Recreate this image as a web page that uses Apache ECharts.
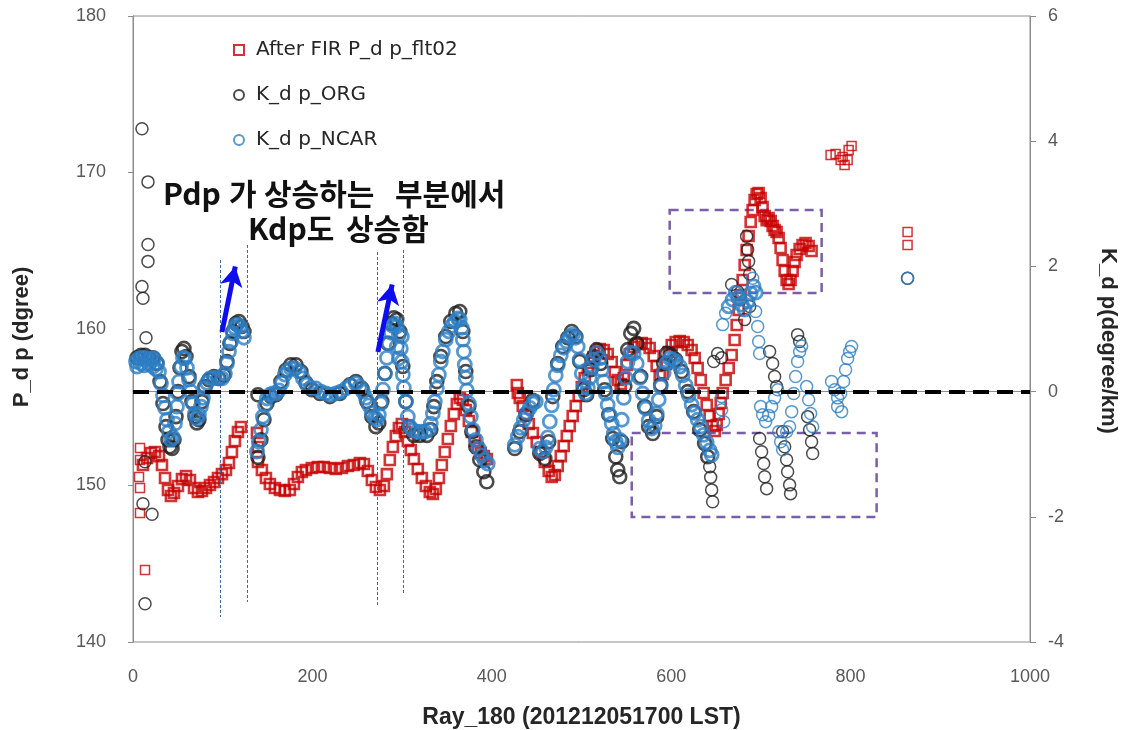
<!DOCTYPE html>
<html>
<head>
<meta charset="utf-8">
<script src="https://cdn.jsdelivr.net/npm/echarts@6/dist/echarts.min.js"></script>
<style>
  html, body { margin: 0; padding: 0; background: #fff; }
  #chart { width: 1131px; height: 730px; }
</style>
</head>
<body>
<div id="chart"></div>
<script>
// Axis ranges
const rayRange = [0, 1000, 200];
const phidpRange = [140, 180, 10];
const kdpRange = [-4, 6, 2];

// After FIR P_dp_flt02 : [ray, degree]
const flt02Start = [[7.8,152.40],[7.8,151.63],[6.7,150.54],[7.8,149.84],[7.8,148.24],[13.4,144.60]];
const flt02A = [[11.1,151.31],[15.6,151.76],[20.1,152.08],[24.5,152.14],[29.0,151.88],[32.3,151.31],[35.7,150.48],[39.0,149.71],[42.3,149.33],[45.7,149.52],[50.1,149.97],[54.6,150.41],[59.1,150.61],[63.5,150.35],[68.0,149.84],[72.4,149.58],[76.9,149.65],[81.3,149.84],[85.8,150.03],[90.3,150.22],[94.7,150.48],[99.2,150.73],[103.6,150.99],[107.0,151.44],[110.3,152.14],[113.6,152.84],[117.0,153.42],[120.3,153.74]];
const flt02B = [[138.2,153.36],[139.3,152.46],[139.3,151.50],[143.7,150.99],[148.2,150.48],[152.6,150.10],[158.2,149.84],[163.8,149.71],[169.3,149.65],[174.9,149.71],[179.4,150.10],[183.8,150.54],[188.3,150.86],[192.8,150.99],[199.4,151.12],[206.1,151.18],[212.8,151.18],[219.5,151.12],[226.2,151.05],[232.9,151.12],[239.6,151.25],[246.2,151.31],[252.9,151.44],[257.4,151.37],[261.8,150.93],[266.3,150.35],[270.8,149.90],[275.2,149.71],[279.7,149.97],[283.0,150.73],[286.3,151.63],[289.7,152.46],[293.0,153.16],[296.4,153.67],[299.7,153.93],[303.1,153.42],[306.4,152.84],[309.7,152.27],[313.1,151.69],[317.5,151.05],[322.0,150.48],[326.5,149.97],[330.9,149.58],[334.3,149.46],[337.6,149.78],[341.0,150.48],[344.3,151.31],[347.6,152.14],[351.0,152.97],[354.3,153.80],[357.7,154.57],[361.0,155.21],[364.3,155.59],[367.7,155.46],[371.0,154.82],[374.4,154.12],[377.7,153.42],[381.1,152.84],[384.4,152.40],[387.7,152.08],[391.1,151.88],[394.4,151.69]];
const flt02C = [[427.9,156.42],[429.0,155.91],[431.2,155.59],[434.5,155.08],[437.9,154.50],[441.2,153.93],[445.7,153.35],[450.1,152.78],[454.6,152.14],[459.1,151.50],[463.5,150.93],[466.8,150.54],[470.2,150.67],[473.5,151.25],[476.9,151.88],[480.2,152.52],[483.6,153.16],[486.9,153.80],[490.2,154.44],[493.6,155.08],[496.9,155.72],[500.3,156.29],[503.6,156.87],[507.0,157.38],[510.3,157.83],[513.6,158.21],[517.0,158.53],[520.3,158.72],[524.8,158.66],[529.2,158.40],[533.7,157.89],[537.1,157.25],[540.4,156.74],[543.7,156.49],[547.1,156.87],[550.4,157.70],[553.8,158.40],[558.2,158.85],[562.7,159.04],[567.1,159.11],[571.6,159.04],[576.0,158.79],[580.5,158.27],[583.8,157.64],[587.2,157.06],[590.5,157.13],[593.9,157.76],[597.2,158.53],[600.6,158.98],[605.0,159.17],[609.5,159.23],[614.0,159.17],[618.4,158.98],[622.8,158.66],[626.2,158.15],[629.5,157.51],[632.9,156.74],[636.2,155.91],[639.6,155.14],[642.9,154.44],[646.2,153.80],[648.5,153.48],[650.7,153.87],[652.9,154.57],[655.2,155.27],[657.4,155.91],[660.7,156.74],[664.1,157.51],[667.4,158.34],[670.7,159.30],[673.0,160.26],[675.2,161.21],[677.4,162.17],[679.7,163.13],[681.9,164.09],[684.1,165.05],[686.3,165.94],[688.6,166.84],[690.8,167.60],[693.0,168.24],[695.3,168.63],[697.5,168.69],[699.7,168.37],[701.9,167.80],[704.2,167.22],[706.4,166.96],[708.6,167.09],[710.9,166.90],[713.1,166.58],[715.3,166.33],[717.5,166.20],[719.8,165.81],[722.0,165.18],[724.2,164.41],[726.5,163.71],[728.7,163.13],[730.9,162.88],[733.1,163.13],[735.4,163.71],[737.6,164.28],[739.8,164.73],[743.2,165.11],[746.5,165.37],[749.8,165.50],[753.2,165.30],[756.5,164.98]];
const flt02End = [[777.7,171.12],[783.3,171.18],[788.9,170.80],[793.3,170.48],[797.8,171.44],[801.1,171.69],[796.7,170.80],[791.1,170.99],[863.5,166.20],[863.5,165.37]];

// K_dp_ORG : [ray, degree/km]
const orgStart = [[10.0,4.20],[16.7,3.35],[16.7,2.35],[16.7,2.08],[10.0,1.68],[11.1,1.49],[14.5,0.86],[13.4,-1.12],[11.1,-1.79],[21.2,-1.96],[13.4,-3.39]];
const orgA = [[4.5,0.54],[8.9,0.58],[13.4,0.58],[17.8,0.54],[22.3,0.54],[26.7,0.45],[30.1,0.16],[33.4,-0.19],[36.8,-0.56],[39.0,-0.77],[41.2,-0.88],[43.5,-0.91],[45.7,-0.77],[47.9,-0.40],[50.1,0.00],[52.4,0.38],[54.6,0.64],[56.8,0.69],[59.1,0.56],[62.4,0.24],[65.7,-0.16],[69.1,-0.40],[71.3,-0.50],[73.5,-0.45],[76.9,-0.16],[80.2,0.08],[84.7,0.19],[90.3,0.24],[95.8,0.21],[101.4,0.26],[104.7,0.48],[108.1,0.77],[111.4,0.96],[114.8,1.09],[118.1,1.12],[121.4,1.04],[123.7,0.96]];
const orgB = [[139.3,-0.05],[139.3,-1.05],[142.6,-0.77],[146.0,-0.45],[149.3,-0.19],[153.8,-0.08],[159.3,-0.05],[164.9,0.16],[170.5,0.34],[176.0,0.43],[181.6,0.43],[187.2,0.32],[192.8,0.14],[199.4,0.03],[208.4,-0.03],[219.5,-0.08],[230.6,-0.03],[241.8,0.11],[248.5,0.16],[255.2,0.05],[260.7,-0.16],[266.3,-0.40],[270.8,-0.56],[274.1,-0.50],[277.4,-0.16],[280.8,0.29],[284.1,0.77],[287.5,1.09],[290.8,1.18],[294.1,1.15],[297.5,0.96],[300.8,0.40],[304.2,-0.16],[307.5,-0.56],[313.1,-0.70],[319.8,-0.70],[327.6,-0.70],[332.0,-0.61],[335.4,-0.24],[338.7,0.16],[343.2,0.56],[348.7,0.88],[354.3,1.12],[359.9,1.25],[364.3,1.28],[367.7,0.96],[371.0,0.32],[374.4,-0.24],[377.7,-0.64],[382.2,-0.88],[386.6,-1.09],[391.1,-1.28],[394.4,-1.44]];
const orgC = [[425.6,-0.91],[431.2,-0.64],[437.9,-0.37],[445.7,-0.14],[453.5,-0.99],[459.1,-1.07],[463.5,-0.80],[468.0,-0.08],[473.5,0.45],[479.1,0.72],[484.7,0.86],[489.1,0.96],[493.6,0.88],[498.0,0.48],[502.5,0.03],[505.8,-0.05],[510.3,0.35],[513.6,0.56],[517.0,0.67],[521.4,0.45],[525.9,0.03],[530.4,-0.37],[534.8,-0.75],[538.2,-1.04],[540.4,-1.25],[542.6,-1.36],[544.9,-0.80],[548.2,0.08],[551.5,0.67],[554.9,0.93],[558.2,1.01],[561.6,0.77],[566.0,0.24],[570.5,-0.24],[574.9,-0.56],[579.4,-0.67],[583.8,-0.40],[588.3,0.11],[591.6,0.45],[595.0,0.61],[599.4,0.59],[605.0,0.51],[611.7,0.32],[618.4,0.00],[625.1,-0.32],[631.8,-0.61],[637.3,-0.83],[640.7,-1.04]];
const orgEnd = [[642.9,-1.20],[644.0,-1.37],[645.1,-1.57],[646.2,-1.76],[647.4,0.48],[651.8,0.61],[656.3,0.54],[667.4,1.71],[674.1,1.60],[681.9,1.15],[687.5,1.36],[684.1,2.48],[685.2,2.27],[686.3,2.08],[687.5,1.88],[709.7,0.64],[713.1,0.45],[715.3,0.24],[717.5,0.08],[698.6,-0.75],[700.8,-0.96],[703.1,-1.15],[704.2,-1.36],[706.4,-1.55],[724.2,-0.64],[726.5,-0.88],[728.7,-1.09],[729.8,-1.28],[732.0,-1.49],[733.1,-1.63],[740.9,0.91],[743.2,0.80],[752.1,-0.40],[754.3,-0.61],[756.5,-0.80],[757.7,-0.99],[863.5,1.81]];

// K_dp_NCAR : [ray, degree/km]
const ncarA = [[3.3,0.48],[4.5,0.40],[6.7,0.53],[8.9,0.45],[10.0,0.54],[12.3,0.42],[13.4,0.54],[16.7,0.51],[17.8,0.44],[20.1,0.53],[22.3,0.40],[23.4,0.53],[25.6,0.36],[26.7,0.46],[29.0,0.32],[31.2,0.13],[33.4,-0.06],[35.7,-0.26],[37.9,-0.45],[40.1,-0.64],[42.3,-0.77],[44.6,-0.73],[46.8,-0.51],[49.0,-0.24],[50.1,-0.03],[51.3,0.16],[53.5,0.40],[55.7,0.54],[57.9,0.53],[60.2,0.38],[62.4,0.19],[64.6,0.00],[66.9,-0.19],[69.1,-0.35],[71.3,-0.43],[73.5,-0.37],[75.8,-0.24],[78.0,-0.10],[80.2,0.05],[82.5,0.14],[85.8,0.21],[90.3,0.22],[94.7,0.21],[99.2,0.21],[102.5,0.29],[104.7,0.45],[107.0,0.64],[109.2,0.80],[111.4,0.93],[113.6,1.02],[115.9,1.07],[119.2,1.05],[121.4,0.96],[123.7,0.86]];
const ncarB = [[138.2,-0.96],[140.4,-0.80],[142.6,-0.61],[144.8,-0.40],[147.1,-0.22],[149.3,-0.11],[152.6,-0.05],[156.0,-0.03],[159.3,-0.03],[162.7,0.02],[166.0,0.14],[169.3,0.27],[172.7,0.34],[176.0,0.37],[180.5,0.37],[185.0,0.32],[189.4,0.21],[193.9,0.11],[198.3,0.06],[203.9,0.05],[209.5,0.00],[215.0,-0.03],[220.6,-0.05],[226.2,-0.03],[231.8,0.00],[237.3,0.05],[242.9,0.10],[248.5,0.13],[252.9,0.08],[256.3,0.00],[259.6,-0.10],[263.0,-0.22],[266.3,-0.34],[269.6,-0.42],[271.9,-0.45],[274.1,-0.37],[276.3,-0.19],[278.6,0.03],[280.8,0.29],[283.0,0.54],[285.2,0.77],[287.5,0.94],[289.7,1.05],[291.9,1.09],[294.1,1.04],[296.4,0.91],[298.6,0.69],[299.7,0.48],[300.8,0.27],[302.0,0.06],[304.2,-0.16],[306.4,-0.40],[308.6,-0.56],[312.0,-0.62],[316.4,-0.64],[320.9,-0.64],[325.3,-0.64],[329.8,-0.61],[332.0,-0.51],[334.3,-0.35],[336.5,-0.16],[338.7,0.05],[341.0,0.27],[343.2,0.48],[345.4,0.64],[348.7,0.83],[352.1,0.96],[355.4,1.05],[358.8,1.12],[362.1,1.17],[364.3,1.15],[366.6,1.02],[367.7,0.83],[368.8,0.64],[369.9,0.43],[371.0,0.22],[372.2,0.02],[374.4,-0.19],[376.6,-0.40],[378.8,-0.61],[382.2,-0.77],[385.5,-0.91],[388.9,-1.02],[392.2,-1.10],[395.5,-1.15],[294.1,0.72],[296.4,0.53],[299.7,0.88]];
const ncarC = [[425.6,-0.85],[429.0,-0.72],[432.3,-0.58],[435.7,-0.45],[439.0,-0.34],[442.3,-0.26],[445.7,-0.19],[449.0,-0.16],[453.5,-0.91],[456.8,-0.96],[460.2,-0.89],[462.4,-0.73],[464.6,-0.48],[466.8,-0.22],[469.1,0.03],[471.3,0.26],[473.5,0.42],[476.9,0.58],[480.2,0.70],[483.6,0.80],[486.9,0.88],[490.2,0.91],[493.6,0.86],[495.8,0.72],[498.0,0.51],[500.3,0.29],[502.5,0.08],[504.7,-0.03],[507.0,0.06],[509.2,0.22],[511.4,0.38],[513.6,0.51],[517.0,0.62],[520.3,0.53],[522.6,0.35],[524.8,0.16],[527.0,-0.03],[529.2,-0.21],[531.5,-0.37],[533.7,-0.51],[535.9,-0.67],[538.2,-0.80],[540.4,-0.89],[542.6,-0.77],[544.9,-0.45],[547.1,-0.10],[549.3,0.22],[551.5,0.48],[554.9,0.62],[558.2,0.61],[561.6,0.45],[564.9,0.22],[568.2,-0.03],[571.6,-0.27],[574.9,-0.46],[578.3,-0.59],[581.6,-0.54],[583.8,-0.35],[586.1,-0.13],[588.3,0.08],[591.6,0.30],[595.0,0.46],[598.3,0.53],[601.7,0.51],[605.0,0.48],[609.5,0.40],[612.8,0.26],[616.2,0.10],[619.5,-0.06],[622.8,-0.21],[626.2,-0.34],[629.5,-0.45],[632.9,-0.56],[636.2,-0.69],[639.6,-0.81],[642.9,-0.94],[645.1,-1.01],[664.1,1.36],[668.5,1.47],[671.9,1.58],[675.2,1.50],[678.5,1.39],[681.9,1.31],[685.2,1.44],[688.6,1.57],[691.9,1.68],[694.1,1.58]];
const ncarEnd = [[656.3,-0.08],[656.3,-0.29],[658.5,-0.48],[657.4,1.07],[660.7,1.25],[690.8,1.81],[694.1,1.28],[696.4,1.04],[697.5,0.80],[698.6,0.61],[699.7,-0.24],[701.9,-0.37],[705.3,-0.48],[708.6,-0.38],[712.0,-0.24],[715.3,-0.10],[718.7,0.03],[719.8,-0.64],[722.0,-0.80],[724.2,-0.93],[728.7,-0.64],[732.0,-0.56],[734.3,-0.32],[736.5,-0.03],[738.7,0.24],[740.9,0.48],[743.2,0.64],[745.4,0.73],[751.0,0.08],[753.2,-0.13],[755.4,-0.35],[757.7,-0.56],[778.8,0.16],[782.2,0.03],[785.5,-0.10],[788.9,-0.03],[792.2,0.16],[794.4,0.35],[796.7,0.53],[798.9,0.64],[801.1,0.72],[785.5,-0.24],[790.0,-0.32],[863.5,1.81]];

// Annotation geometry in data units
const boxUpper = [[598.3, 167.60], [767.7, 162.30]];
const boxLower = [[556.0, 153.35], [829.0, 147.99]];
const guideLines = [
  [[96.9, 164.41], [96.9, 141.60]],
  [[127.0, 165.37], [127.0, 142.56]],
  [[271.9, 164.92], [271.9, 142.24]],
  [[300.8, 165.05], [300.8, 143.13]]
];
const riseArrows = [
  [[99.2, 159.81], [114.0, 164.0]],
  [[273.0, 158.53], [288.9, 162.85]]
];

// Annotation text, word by word
const noteWords = [
  { text: 'Pdp', x: 163, y: 194 },
  { text: '가', x: 229, y: 194 },
  { text: '상승하는', x: 264, y: 194 },
  { text: '부분에서', x: 395, y: 194 },
  { text: 'Kdp도', x: 248, y: 229 },
  { text: '상승함', x: 346, y: 229 }
];

const names = ['After FIR P_d p_flt02', 'K_d p_ORG', 'K_d p_NCAR'];
const tickColor = '#595959';
const axisGray = '#8c8c8c';
const red = '#c80000', black = '#1e1e1e', blue = '#2d7ec4';
const hollow = 'rgba(255,255,255,0)';

function scatter(name, axis, symbol, size, color, width, data) {
  return {
    name, type: 'scatter', yAxisIndex: axis, symbol, symbolSize: size,
    itemStyle: { color: hollow, borderColor: color, borderWidth: width },
    data
  };
}

const chart = echarts.init(document.getElementById('chart'), null, { renderer: 'canvas' });

chart.setOption({
  animation: false,
  backgroundColor: '#ffffff',
  grid: {
    left: 133, right: 101, top: 16, bottom: 88,
    outerBoundsMode: 'none', containLabel: false,
    show: true, borderColor: axisGray, borderWidth: 1
  },
  legend: {
    data: names,
    orient: 'vertical',
    left: 233,
    top: 40,
    padding: 0,
    itemGap: 25,
    itemWidth: 10,
    itemHeight: 10,
    textStyle: { fontFamily: 'DejaVu Sans', fontSize: 20, color: '#262626', padding: [0, 0, 0, 7] }
  },
  xAxis: {
    type: 'value',
    min: rayRange[0], max: rayRange[1], interval: rayRange[2],
    axisLine: { show: true, lineStyle: { color: axisGray } },
    axisTick: { show: false },
    splitLine: { show: false },
    axisLabel: { color: tickColor, fontSize: 18, fontFamily: 'Liberation Sans', margin: 26, formatter: v => String(v) },
    name: 'Ray_180 (201212051700 LST)',
    nameLocation: 'middle',
    nameGap: 64,
    nameTextStyle: { fontFamily: 'Liberation Sans', fontWeight: 'bold', fontSize: 23, color: '#262626' }
  },
  yAxis: [
    {
      type: 'value', position: 'left',
      min: phidpRange[0], max: phidpRange[1], interval: phidpRange[2],
      axisLine: { show: true, lineStyle: { color: axisGray } },
      axisTick: { show: true, length: 5, lineStyle: { color: axisGray } },
      splitLine: { show: false },
      axisLabel: { color: tickColor, fontSize: 18, fontFamily: 'Liberation Sans', margin: 27 },
      name: 'P_d p (dgree)',
      nameLocation: 'middle',
      nameGap: 100,
      nameTextStyle: { fontFamily: 'Liberation Sans', fontWeight: 'bold', fontSize: 22, color: '#262626', padding: [0, 16, 0, 0] }
    },
    {
      type: 'value', position: 'right',
      min: kdpRange[0], max: kdpRange[1], interval: kdpRange[2],
      axisLine: { show: true, lineStyle: { color: axisGray } },
      axisTick: { show: true, length: 6, lineStyle: { color: axisGray } },
      splitLine: { show: false },
      axisLabel: { color: tickColor, fontSize: 18, fontFamily: 'Liberation Sans', margin: 18 },
      name: 'K_d p(degree/km)',
      nameLocation: 'middle',
      nameGap: 67,
      nameRotate: -90,
      nameTextStyle: { fontFamily: 'Liberation Sans', fontWeight: 'bold', fontSize: 22, color: '#262626', padding: [0, 0, 0, 24] }
    }
  ],
  series: [
    scatter(names[0], 0, 'rect', 9, red, 1.5, [].concat(flt02Start, flt02End)),
    scatter(names[0], 0, 'rect', 10, red, 2.6, [].concat(flt02A, flt02B, flt02C)),
    scatter(names[1], 1, 'circle', 12, black, 1.5, [].concat(orgStart, orgEnd)),
    scatter(names[1], 1, 'circle', 13, black, 2.6, [].concat(orgA, orgB, orgC)),
    scatter(names[2], 1, 'circle', 12, blue, 1.5, ncarEnd),
    scatter(names[2], 1, 'circle', 13, blue, 2.8, [].concat(ncarA, ncarB, ncarC)),
    {
      // highlight boxes, guide lines and arrows
      type: 'line', yAxisIndex: 0, z: 10, data: [], silent: true,
      markArea: {
        silent: true,
        itemStyle: { color: hollow, borderColor: '#7b5ea8', borderWidth: 2.5, borderType: [9, 6] },
        data: [
          [{ coord: boxUpper[0] }, { coord: boxUpper[1] }],
          [{ coord: boxLower[0] }, { coord: boxLower[1] }]
        ]
      },
      markLine: {
        silent: true,
        symbol: ['none', 'none'],
        label: { show: false },
        data: guideLines.map(l => [
          { coord: l[0], lineStyle: { color: '#3a6aa5', width: 1, type: [3, 2] } },
          { coord: l[1] }
        ]).concat(riseArrows.map(a => [
          { coord: a[0], symbol: 'none', lineStyle: { color: '#0d0df0', width: 5, type: 'solid' } },
          { coord: a[1], symbol: 'arrow', symbolSize: [17, 20] }
        ]))
      }
    },
    {
      // zero level of K_dp
      type: 'line', yAxisIndex: 1, z: 11, data: [], silent: true,
      markLine: {
        silent: true,
        symbol: ['none', 'none'],
        label: { show: false },
        lineStyle: { color: '#000000', width: 4, type: [16, 8] },
        data: [{ yAxis: 0 }]
      }
    }
  ],
  graphic: noteWords.map(w => ({
    type: 'text', x: w.x, y: w.y, z: 20,
    style: {
      text: w.text,
      font: 'bold 30px "Noto Sans CJK KR"',
      fill: '#111111',
      textVerticalAlign: 'middle'
    }
  }))
});
</script>
</body>
</html>
